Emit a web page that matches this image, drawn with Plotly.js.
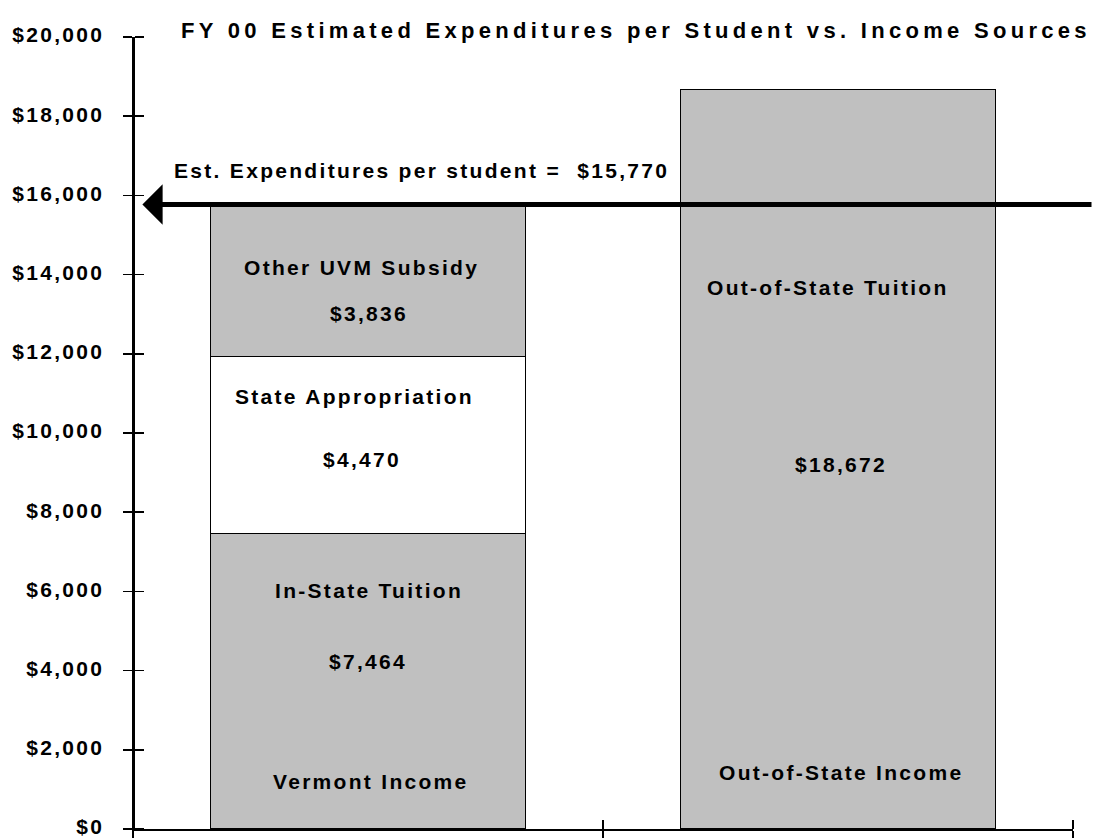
<!DOCTYPE html>
<html>
<head>
<meta charset="utf-8">
<script src="https://cdn.plot.ly/plotly-3.0.1.min.js"></script>
<style>
  html, body { margin: 0; padding: 0; background: #fff; }
  #chart { width: 1093px; height: 838px; }
  .gtitle { letter-spacing: 4.3px; }
  .annotation-text { letter-spacing: 2.3px; }
  .ytick text { letter-spacing: 2.3px; }
</style>
</head>
<body>
<div id="chart"></div>
<script>
// ---- data ----
const categories = ["Vermont Income", "Out-of-State Income"];
const inStateTuition = [7464, null];
const stateAppropriation = [4470, null];
const otherSubsidy = [3836, null];
const outStateTuition = [null, 18672];
const expenditurePerStudent = 15770;
const segmentNames = ["In-State Tuition", "State Appropriation", "Other UVM Subsidy", "Out-of-State Tuition"];
const tickVals = [0, 2000, 4000, 6000, 8000, 10000, 12000, 14000, 16000, 18000, 20000];
const tickText = ["$0", "$2,000", "$4,000", "$6,000", "$8,000", "$10,000", "$12,000", "$14,000", "$16,000", "$18,000", "$20,000"];
const titleText = "FY 00 Estimated Expenditures per Student vs. Income Sources";

// ---- styles ----
const FONT = "Liberation Sans, Arial, sans-serif";
const GRAY = "#c0c0c0";
const FS = 21;
const fmt = v => "$" + v.toLocaleString("en-US");
const barLine = { color: "#000", width: 1.5 };

const traces = [
  { type: "bar", x: categories, y: inStateTuition, name: segmentNames[0],
    marker: { color: GRAY, line: barLine }, hoverinfo: "skip" },
  { type: "bar", x: categories, y: stateAppropriation, name: segmentNames[1],
    marker: { color: "#ffffff", line: barLine }, hoverinfo: "skip" },
  { type: "bar", x: categories, y: otherSubsidy, name: segmentNames[2],
    marker: { color: GRAY, line: barLine }, hoverinfo: "skip" },
  { type: "bar", x: categories, y: outStateTuition, name: segmentNames[3],
    marker: { color: GRAY, line: barLine }, hoverinfo: "skip" },
  // invisible helper so the overlay axes (inner half of the cross ticks) are drawn
  { type: "scatter", mode: "markers", x: [0], y: [0], xaxis: "x2", yaxis: "y2",
    marker: { opacity: 0, size: 1 }, hoverinfo: "skip", showlegend: false }
];

const lblFont = { family: FONT, size: FS, color: "#000", weight: "bold" };
function lbl(text, cat, y, xshift) {
  return { text: text, x: cat, y: y, xref: "x", yref: "y", showarrow: false,
           xanchor: "center", yanchor: "middle", xshift: xshift || 0, font: lblFont };
}

const annotations = [
  lbl(segmentNames[2], categories[0], 14192, -7),
  lbl(fmt(otherSubsidy[0]), categories[0], 13030, 1),
  lbl(segmentNames[1], categories[0], 10934, -14),
  lbl(fmt(stateAppropriation[0]), categories[0], 9343, -6),
  lbl(segmentNames[0], categories[0], 6035, 1),
  lbl(fmt(inStateTuition[0]), categories[0], 4242, 0),
  lbl(categories[0], categories[0], 1187, 3),
  lbl(segmentNames[3], categories[1], 13662, -10),
  lbl(fmt(outStateTuition[1]), categories[1], 9217, 3),
  lbl(categories[1], categories[1], 1439, 3),
  lbl("Est. Expenditures per student =  " + fmt(expenditurePerStudent), categories[0], 16641, 53),
  // arrow at expenditure level
  { text: "", x: -0.48, y: expenditurePerStudent, xref: "x", yref: "y",
    showarrow: true, arrowhead: 1, arrowsize: 1.35, arrowwidth: 5, arrowcolor: "#000",
    axref: "pixel", ayref: "pixel", ax: 965, ay: 0, standoff: 0 }
];

const layout = {
  width: 1093, height: 838,
  paper_bgcolor: "#fff", plot_bgcolor: "#fff",
  margin: { l: 133, r: 20, t: 37, b: 9 },
  barmode: "stack", bargap: 0.33,
  showlegend: false,
  font: { family: FONT, size: FS, color: "#000" },
  title: { text: titleText, x: 636 / 1093, xanchor: "center", xref: "container",
           y: 1 - 30 / 838, yanchor: "middle", yref: "container",
           font: { family: FONT, size: 22, color: "#000", weight: "bold" } },
  xaxis: { type: "category", categoryorder: "array", categoryarray: categories,
           range: [-0.5, 1.5], showticklabels: false, showgrid: false, zeroline: false,
           showline: true, linecolor: "#000", linewidth: 1.5,
           ticks: "outside", tickson: "boundaries", ticklen: 9, tickwidth: 1.5, tickcolor: "#000" },
  // free-positioned companion axis at the same place, ticks pointing up into the plot
  xaxis2: { overlaying: "x", type: "linear", range: [-0.5, 1.5], tickvals: [-0.5, 0.5, 1.5],
            anchor: "free", position: 0, side: "top",
            showticklabels: false, showgrid: false, zeroline: false, showline: true,
            linecolor: "#000", linewidth: 1.5,
            ticks: "outside", ticklen: 9, tickwidth: 1.5, tickcolor: "#000", layer: "above traces" },
  yaxis: { range: [0, 20000], tickvals: tickVals, ticktext: tickText,
           showgrid: false, zeroline: false, showline: true, linecolor: "#000", linewidth: 1.5,
           ticks: "outside", ticklen: 9, tickwidth: 1.5, tickcolor: "#000",
           ticklabelstandoff: 14, ticklabeloverflow: "allow", ticklabelshift: -2,
           tickfont: { family: FONT, size: FS, color: "#000", weight: "bold" } },
  // companion y axis, ticks pointing right into the plot
  yaxis2: { overlaying: "y", range: [0, 20000], tickvals: tickVals, showticklabels: false,
            anchor: "free", position: 0, side: "right",
            showgrid: false, zeroline: false, showline: true, linecolor: "#000", linewidth: 1.5,
            ticks: "outside", ticklen: 9, tickwidth: 1.5, tickcolor: "#000", layer: "above traces" },
  annotations: annotations
};

Plotly.newPlot("chart", traces, layout, { displayModeBar: false, staticPlot: true });
</script>
</body>
</html>
